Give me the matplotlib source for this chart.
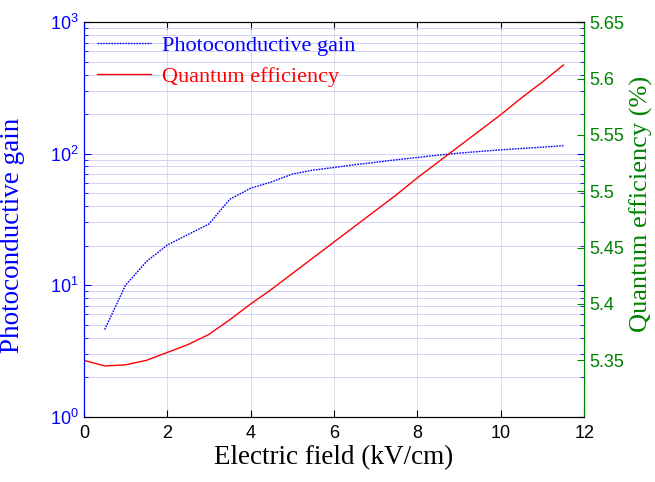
import numpy as np
import matplotlib
matplotlib.use("Agg")
import matplotlib.pyplot as plt
from matplotlib.ticker import LogLocator, NullFormatter, FixedLocator

### data ###
field_gain = [0.5, 1.0, 1.5, 2.0, 2.5, 3.0, 3.5, 4.0, 4.5, 5.0, 5.5, 6.0, 6.5, 7.0,
              7.5, 8.0, 8.5, 9.0, 9.5, 10.0, 10.5, 11.0, 11.5]
gain = [4.6, 10.0, 15.1, 20.2, 24.3, 29.2, 45.0, 54.6, 61.0, 70.0, 75.0, 78.5, 82.5, 86.0,
        90.0, 93.5, 97.5, 101.0, 104.0, 107.0, 109.5, 112.0, 115.0]

field_qe = [0.0, 0.5, 1.0, 1.5, 2.0, 2.5, 3.0, 3.5, 4.0, 4.5, 5.0, 5.5, 6.0, 6.5, 7.0,
            7.5, 8.0, 8.5, 9.0, 9.5, 10.0, 10.5, 11.0, 11.5]
qe = [5.350, 5.345, 5.346, 5.350, 5.357, 5.364, 5.373, 5.386, 5.400, 5.413, 5.427,
      5.441, 5.455, 5.469, 5.483, 5.497, 5.512, 5.526, 5.540, 5.554, 5.568, 5.583,
      5.597, 5.612]

x_ticks = [0, 2, 4, 6, 8, 10, 12]
qe_ticks = [5.35, 5.4, 5.45, 5.5, 5.55, 5.6, 5.65]
qe_labels = ["5.35", "5.4", "5.45", "5.5", "5.55", "5.6", "5.65"]

blue = "#0000ff"
green = "#008000"
serif = "Liberation Serif"
sans = "Liberation Sans"

plt.rcParams["mathtext.fontset"] = "custom"
plt.rcParams["mathtext.rm"] = sans
plt.rcParams["mathtext.it"] = sans
plt.rcParams["mathtext.bf"] = sans
plt.rcParams["font.family"] = [sans, "DejaVu Sans"]

fig = plt.figure(figsize=(6.55, 4.82), dpi=100)
ax = fig.add_axes([0.128, 0.1355, 0.764, 0.8185])
ax2 = ax.twinx()

ax.set_yscale("log")
ax.set_xlim(0, 12)
ax.set_ylim(1, 1000)
ax.set_xticks(x_ticks)
ax.set_xticklabels([str(t) for t in x_ticks], fontfamily=sans, fontsize=13)
ax.yaxis.set_major_locator(LogLocator(base=10, numticks=10))
ax.yaxis.set_minor_locator(LogLocator(base=10, subs=np.arange(2, 10), numticks=10))
ax.yaxis.set_minor_formatter(NullFormatter())

# grids
ax.grid(True, which="both", axis="y", color="#d2d2fa", lw=0.7)
ax.grid(True, which="major", axis="x", color="#dcdce4", lw=0.7)
ax.set_axisbelow(True)

l1, = ax.plot(field_gain, gain, color=blue, ls=(0, (1.2, 0.8)), lw=1.0,
              label="Photoconductive gain")
l2, = ax2.plot(field_qe, qe, color="red", lw=1.0, label="Quantum efficiency")

ax2.set_ylim(5.30, 5.65)
ax2.yaxis.set_major_locator(FixedLocator(qe_ticks))
ax2.set_yticklabels(qe_labels, fontfamily=sans, fontsize=13, color=green)

# ticks and spines
ax.tick_params(axis="x", which="both", direction="in", top=True, colors="black",
               length=5, labelsize=13, pad=6)
ax.tick_params(axis="y", which="major", direction="in", colors=blue, length=5,
               right=True, labelsize=13)
ax.tick_params(axis="y", which="minor", direction="in", colors=blue, length=3,
               right=True)
ax2.tick_params(axis="y", which="major", direction="in", colors=green, length=5,
                labelcolor=green, labelsize=13)
ax.spines["left"].set_color(blue)
ax2.spines["left"].set_color(blue)
ax2.spines["right"].set_color(green)
ax.spines["right"].set_color(green)

ax.set_xlabel("Electric field (kV/cm)", fontfamily=serif, fontsize=19.5, labelpad=2)
ax.set_ylabel("Photoconductive gain", fontfamily=serif, fontsize=19.5, color=blue)
ax2.set_ylabel("Quantum efficiency (%)", fontfamily=serif, fontsize=19, color=green)
ax.yaxis.set_label_coords(-0.118, 0.46)
ax2.yaxis.set_label_coords(1.09, 0.54)

leg = ax2.legend(handles=[l1, l2], loc="upper left", frameon=False,
                 prop={"family": serif, "size": 16}, handlelength=2.4,
                 borderaxespad=0.2, labelspacing=0.45, handletextpad=0.5)
for txt, col in zip(leg.get_texts(), [blue, "red"]):
    txt.set_color(col)

fig.savefig("out.png", dpi=100)
